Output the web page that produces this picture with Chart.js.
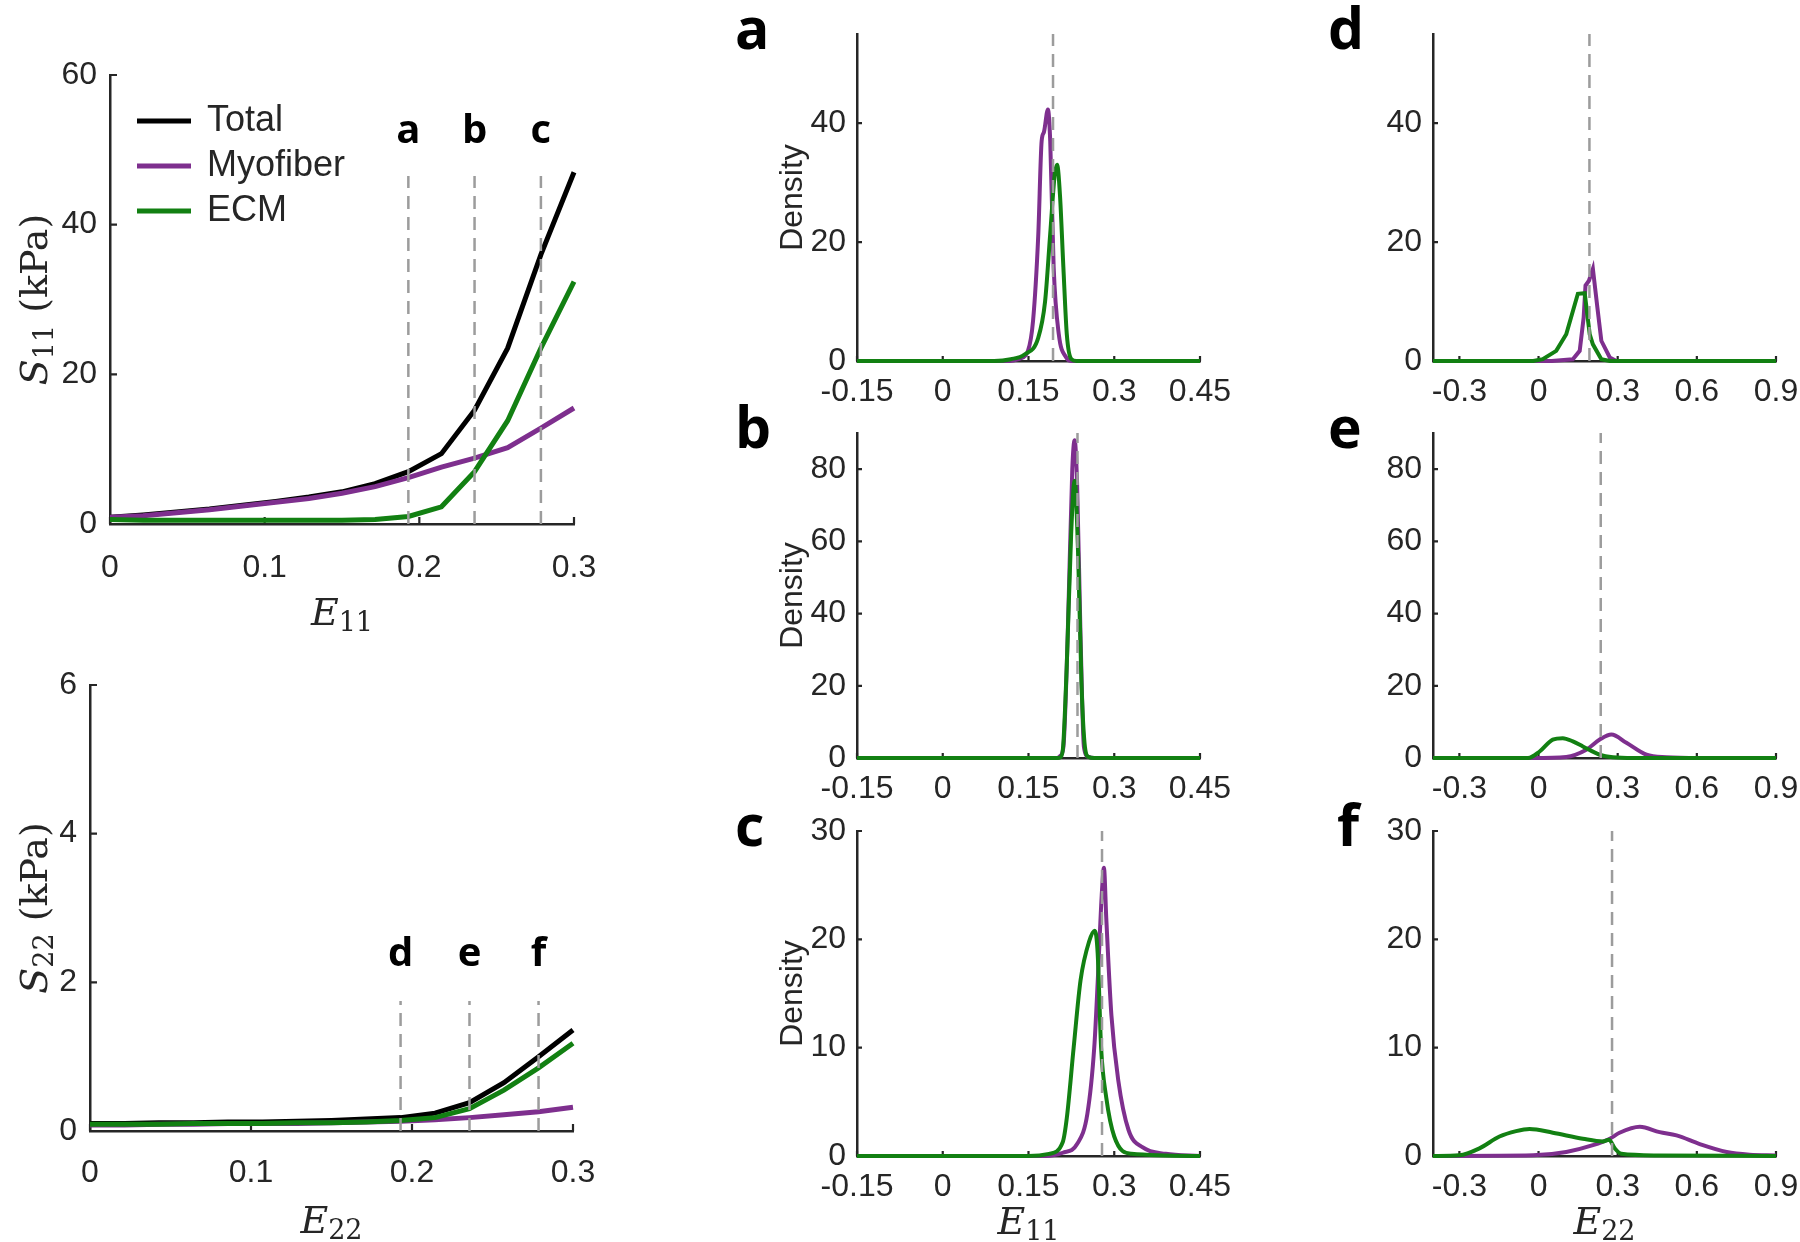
<!DOCTYPE html>
<html>
<head>
<meta charset="utf-8">
<script src="https://cdn.jsdelivr.net/npm/chart.js@4.4.1/dist/chart.umd.min.js"></script>
<style>
  body { margin: 0; background: #fff; width: 1800px; height: 1242px; position: relative; overflow: hidden; }
  canvas { position: absolute; left: 0; top: 0; }
</style>
</head>
<body>
<canvas id="s11" width="1800" height="1242"></canvas>
<canvas id="s22" width="1800" height="1242"></canvas>
<canvas id="pa" width="1800" height="1242"></canvas>
<canvas id="pb" width="1800" height="1242"></canvas>
<canvas id="pc" width="1800" height="1242"></canvas>
<canvas id="pd" width="1800" height="1242"></canvas>
<canvas id="pe" width="1800" height="1242"></canvas>
<canvas id="pf" width="1800" height="1242"></canvas>
<script>
// ---- stress-strain curves (left column) ----
const strain = [0, 0.0214, 0.0429, 0.0643, 0.0857, 0.1071, 0.1286, 0.15, 0.1714, 0.1929, 0.2143, 0.2357, 0.2571, 0.2786, 0.3];
const s11Total = [0.9, 1.2, 1.6, 2.0, 2.5, 3.0, 3.6, 4.3, 5.4, 7.0, 9.4, 15.2, 23.5, 36.0, 47.0];
const s11Myo   = [0.9, 1.1, 1.5, 1.9, 2.4, 2.9, 3.4, 4.1, 5.0, 6.2, 7.6, 8.8, 10.2, 12.8, 15.5];
const s11Ecm   = [0.6, 0.5, 0.5, 0.5, 0.5, 0.5, 0.5, 0.5, 0.6, 1.0, 2.3, 7.0, 13.8, 23.5, 32.4];
const s22Total = [0.10, 0.10, 0.11, 0.11, 0.12, 0.12, 0.13, 0.14, 0.16, 0.18, 0.24, 0.38, 0.65, 1.00, 1.36];
const s22Myo   = [0.08, 0.08, 0.09, 0.09, 0.10, 0.10, 0.10, 0.11, 0.12, 0.13, 0.15, 0.18, 0.22, 0.26, 0.32];
const s22Ecm   = [0.09, 0.09, 0.09, 0.10, 0.10, 0.10, 0.11, 0.11, 0.12, 0.14, 0.18, 0.30, 0.55, 0.85, 1.18];

// strain levels marked with dashed lines
const markStrain = [0.1929, 0.2357, 0.2786];
const markLetters11 = ['a', 'b', 'c'];
const markLetters22 = ['d', 'e', 'f'];
const markTop11 = 46.5, markLabel11 = 52.4;
const markTop22 = 1.75, markLabel22 = 2.37;

// ticks
const strainTicks = [0, 0.1, 0.2, 0.3];
const strainTickLabels = ['0', '0.1', '0.2', '0.3'];
const s11Ticks = [0, 20, 40, 60];
const s22Ticks = [0, 2, 4, 6];
const e11Ticks = [-0.15, 0, 0.15, 0.3, 0.45];
const e11TickLabels = ['-0.15', '0', '0.15', '0.3', '0.45'];
const e22Ticks = [-0.3, 0, 0.3, 0.6, 0.9];
const e22TickLabels = ['-0.3', '0', '0.3', '0.6', '0.9'];
const densTicksA = [0, 20, 40];
const densTicksB = [0, 20, 40, 60, 80];
const densTicksC = [0, 10, 20, 30];

// ---- density curves, E11 at a/b/c ----
const aMyoX = [-0.15, 0.11, 0.135, 0.149, 0.158, 0.167, 0.173, 0.177, 0.184, 0.188, 0.194, 0.203, 0.216, 0.226, 0.45];
const aMyoY = [0, 0, 0.4, 1.7, 6.8, 21, 37, 38.5, 42.3, 37, 15.8, 4.5, 0.6, 0, 0];
const aEcmX = [-0.15, 0.09, 0.119, 0.143, 0.167, 0.179, 0.188, 0.196, 0.2, 0.205, 0.211, 0.217, 0.225, 0.234, 0.45];
const aEcmY = [0, 0, 0.3, 1.1, 3.9, 10, 21.4, 31.5, 33, 28, 15.8, 4.5, 0.3, 0, 0];
const bMyoX = [-0.15, 0.2, 0.205, 0.211, 0.2186, 0.2266, 0.2307, 0.235, 0.241, 0.247, 0.255, 0.265, 0.45];
const bMyoY = [0, 0, 0.5, 3, 34, 80, 88, 76, 34, 3, 0.3, 0, 0];
const bEcmX = [-0.15, 0.2, 0.2065, 0.2107, 0.2168, 0.2246, 0.2307, 0.2367, 0.2427, 0.2488, 0.255, 0.265, 0.45];
const bEcmY = [0, 0, 0.3, 3.4, 25, 62, 76.8, 57, 20.5, 3, 0.3, 0, 0];
const cMyoX = [-0.15, 0.18, 0.21, 0.235, 0.253, 0.265, 0.271, 0.278, 0.282, 0.286, 0.295, 0.307, 0.325, 0.35, 0.39, 0.45];
const cMyoY = [0, 0, 0.3, 1.1, 3.9, 10, 16, 24, 26.6, 22, 13, 7, 2.4, 0.8, 0.2, 0];
const cEcmX = [-0.15, 0.15, 0.186, 0.21, 0.217, 0.229, 0.241, 0.256, 0.266, 0.271, 0.277, 0.286, 0.30, 0.33, 0.45];
const cEcmY = [0, 0, 0.2, 1.3, 3.5, 10, 16.2, 19.8, 20.8, 18.7, 10, 5.4, 1.8, 0.2, 0];

// ---- density curves, E22 at d/e/f ----
const dMyoX = [-0.4, 0.05, 0.13, 0.156, 0.171, 0.178, 0.191, 0.206, 0.223, 0.238, 0.27, 0.295, 0.9];
const dMyoY = [0, 0, 0.3, 1.7, 7.3, 12.7, 13.5, 15.5, 9, 3.4, 0.6, 0, 0];
const dEcmX = [-0.4, -0.02, 0.016, 0.067, 0.105, 0.149, 0.175, 0.194, 0.206, 0.238, 0.27, 0.9];
const dEcmY = [0, 0, 0.3, 1.7, 4.5, 11.3, 11.4, 4.5, 2.8, 0.3, 0, 0];
const eMyoX = [-0.4, -0.02, 0.105, 0.181, 0.232, 0.276, 0.333, 0.409, 0.485, 0.61, 0.9];
const eMyoY = [0, 0, 0.3, 2.3, 5.1, 6.5, 4.2, 0.9, 0.2, 0, 0];
const eEcmX = [-0.4, -0.04, 0.004, 0.054, 0.092, 0.13, 0.168, 0.232, 0.282, 0.36, 0.9];
const eEcmY = [0, 0, 1.8, 5.1, 5.5, 4.6, 3.2, 0.9, 0.2, 0, 0];
const fMyoX = [-0.4, -0.02, 0.105, 0.206, 0.27, 0.307, 0.384, 0.459, 0.523, 0.611, 0.713, 0.8, 0.9];
const fMyoY = [0, 0.06, 0.37, 1.0, 1.6, 2.15, 2.7, 2.2, 1.9, 1.1, 0.37, 0.12, 0.05];
const fEcmX = [-0.4, -0.3, -0.224, -0.148, -0.085, -0.034, 0.054, 0.168, 0.244, 0.267, 0.289, 0.314, 0.45, 0.9];
const fEcmY = [0, 0.06, 0.7, 1.8, 2.3, 2.5, 2.15, 1.6, 1.35, 1.5, 0.7, 0.2, 0.05, 0];

// styles
const W = 1800, H = 1242;
const YAXIS_W = 90, XAXIS_H = 80;
const INK = '#262626';
const BLACK = '#000000', PURPLE = '#7E2F8E', GREEN = '#128012', DASH = '#9c9c9c';
const SANS = '"Liberation Sans", Arial, sans-serif';
const SERIF = '"DejaVu Serif", "Liberation Serif", serif';
const BOLD = '"Open Sans", "DejaVu Sans", sans-serif';

Chart.defaults.font.family = SANS;
Chart.defaults.color = INK;

const pts = (xs, ys) => xs.map((x, i) => ({ x, y: ys[i] }));

function scale(pos, min, max, ticks, labels, pad) {
  return {
    type: 'linear', position: pos, min, max,
    grid: { display: false, drawTicks: false },
    border: { display: true, color: INK, width: 2.5 },
    ticks: {
      autoSkip: false, maxRotation: 0, color: INK, padding: pad,
      font: { size: 32, family: SANS },
      callback: (v, i) => labels[i]
    },
    afterBuildTicks: s => { s.ticks = ticks.map(v => ({ value: v })); },
    afterFit: s => {
      if (pos === 'bottom') s.height = XAXIS_H; else s.width = YAXIS_W;
      s.paddingLeft = s.paddingRight = s.paddingTop = s.paddingBottom = 0;
    }
  };
}

function curve(label, xs, ys, color, width, order, smooth) {
  return {
    label, data: pts(xs, ys), borderColor: color, borderWidth: width,
    pointRadius: 0, clip: false, order, fill: false,
    tension: 0, cubicInterpolationMode: smooth ? 'monotone' : 'default'
  };
}

function dashLines(xs, top) {
  return xs.map(x => ({
    data: [{ x, y: 0 }, { x, y: top }], borderColor: DASH, borderWidth: 2.5,
    borderDash: [13, 8], pointRadius: 0, clip: false, order: 0, tension: 0
  }));
}

// text with an italic letter and an upright subscript, optionally rotated
function drawMath(ctx, parts, x, y, size, rotated) {
  ctx.save();
  ctx.translate(x, y);
  if (rotated) ctx.rotate(-Math.PI / 2);
  ctx.fillStyle = INK;
  ctx.textBaseline = 'alphabetic';
  ctx.textAlign = 'left';
  const fontOf = p => (p.it ? 'italic ' : '') + Math.round(p.sub ? size * 0.72 : size) + 'px ' + SERIF;
  let total = 0;
  const widths = parts.map(p => { ctx.font = fontOf(p); const w = ctx.measureText(p.t).width; total += w; return w; });
  let cx = -total / 2;
  parts.forEach((p, i) => {
    ctx.font = fontOf(p);
    ctx.fillText(p.t, cx, p.sub ? size * 0.16 : 0);
    cx += widths[i];
  });
  ctx.restore();
}

function decor(conf) {
  return {
    id: 'decor',
    beforeDatasetsDraw(chart) {
      const { ctx, chartArea: a } = chart;
      const xs = chart.scales.x, ys = chart.scales.y;
      const len = conf.tickLen || 5;
      ctx.save();
      ctx.strokeStyle = INK;
      ctx.lineWidth = 2.2;
      ctx.beginPath();
      xs.ticks.forEach(t => { const p = xs.getPixelForValue(t.value); ctx.moveTo(p, a.bottom); ctx.lineTo(p, a.bottom - len); });
      ys.ticks.forEach(t => { const p = ys.getPixelForValue(t.value); ctx.moveTo(a.left, p); ctx.lineTo(a.left + len, p); });
      ctx.stroke();
      ctx.restore();
    },
    afterDraw(chart) {
      const { ctx, chartArea: a } = chart;
      const xs = chart.scales.x, ys = chart.scales.y;
      const cx = (a.left + a.right) / 2, cy = (a.top + a.bottom) / 2;
      if (conf.xTitle) drawMath(ctx, conf.xTitle, cx, a.bottom + conf.xTitleDy, 38, false);
      if (conf.yTitle) drawMath(ctx, conf.yTitle, 47, cy, 38, true);
      ctx.save();
      ctx.fillStyle = INK;
      if (conf.density) {
        ctx.translate(a.left - 55, cy);
        ctx.rotate(-Math.PI / 2);
        ctx.font = '32px ' + SANS;
        ctx.textAlign = 'center';
        ctx.textBaseline = 'alphabetic';
        ctx.fillText('Density', 0, 0);
      }
      ctx.restore();
      ctx.save();
      ctx.fillStyle = '#000';
      if (conf.panel) {
        ctx.font = 'bold 57px ' + BOLD;
        ctx.textAlign = 'left';
        ctx.textBaseline = 'alphabetic';
        ctx.fillText(conf.panel, a.left - conf.panelDx, a.top + 15);
      }
      if (conf.marks) {
        ctx.font = 'bold 40px ' + BOLD;
        ctx.textAlign = 'center';
        ctx.textBaseline = 'middle';
        conf.marks.xs.forEach((v, i) => ctx.fillText(conf.marks.letters[i], xs.getPixelForValue(v), ys.getPixelForValue(conf.marks.y)));
      }
      if (conf.legend) {
        ctx.font = '36px ' + SANS;
        ctx.textAlign = 'left';
        ctx.textBaseline = 'middle';
        chart.data.datasets.filter(d => d.label).forEach((d, i) => {
          const y = a.top + 46 + i * 45;
          ctx.strokeStyle = d.borderColor;
          ctx.lineWidth = 5;
          ctx.beginPath();
          ctx.moveTo(a.left + 27, y);
          ctx.lineTo(a.left + 81, y);
          ctx.stroke();
          ctx.fillStyle = INK;
          ctx.fillText(d.label, a.left + 97, y);
        });
      }
      ctx.restore();
    }
  };
}

function makeChart(id, box, xScale, yScale, datasets, conf) {
  return new Chart(document.getElementById(id), {
    type: 'line',
    data: { datasets },
    options: {
      responsive: false, animation: false, events: [],
      layout: { padding: { left: box[0] - YAXIS_W, top: box[1], right: W - box[2], bottom: H - box[3] - XAXIS_H } },
      plugins: { legend: { display: false }, tooltip: { enabled: false } },
      scales: { x: xScale, y: yScale }
    },
    plugins: [decor(conf)]
  });
}

// left column: stress vs strain
makeChart('s11', [110, 75, 574, 524],
  scale('bottom', 0, 0.3, strainTicks, strainTickLabels, 25),
  scale('left', 0, 60, s11Ticks, s11Ticks.map(String), 13),
  [
    curve('Total', strain, s11Total, BLACK, 5, 3, false),
    curve('Myofiber', strain, s11Myo, PURPLE, 5, 2, false),
    curve('ECM', strain, s11Ecm, GREEN, 5, 1, false),
    ...dashLines(markStrain, markTop11)
  ],
  {
    legend: true, xTitleDy: 101, tickLen: 7,
    marks: { xs: markStrain, letters: markLetters11, y: markLabel11 },
    xTitle: [{ t: 'E', it: true }, { t: '11', sub: true }],
    yTitle: [{ t: 'S', it: true }, { t: '11', sub: true }, { t: ' (kPa)' }]
  });

makeChart('s22', [90, 685, 573, 1131],
  scale('bottom', 0, 0.3, strainTicks, strainTickLabels, 23),
  scale('left', 0, 6, s22Ticks, s22Ticks.map(String), 13),
  [
    curve('Total', strain, s22Total, BLACK, 5, 3, false),
    curve('Myofiber', strain, s22Myo, PURPLE, 5, 2, false),
    curve('ECM', strain, s22Ecm, GREEN, 5, 1, false),
    ...dashLines(markStrain, markTop22)
  ],
  {
    xTitleDy: 102, tickLen: 7,
    marks: { xs: markStrain, letters: markLetters22, y: markLabel22 },
    xTitle: [{ t: 'E', it: true }, { t: '22', sub: true }],
    yTitle: [{ t: 'S', it: true }, { t: '22', sub: true }, { t: ' (kPa)' }]
  });

// middle column: E11 densities
const e11Panels = [
  ['pa', 'a', [857, 34, 1200, 361], 55, densTicksA, aMyoX, aMyoY, aEcmX, aEcmY, 0],
  ['pb', 'b', [857, 433, 1200, 758], 90, densTicksB, bMyoX, bMyoY, bEcmX, bEcmY, 1],
  ['pc', 'c', [857, 831, 1200, 1156], 30, densTicksC, cMyoX, cMyoY, cEcmX, cEcmY, 2]
];
e11Panels.forEach(([id, letter, box, ymax, yt, mx, my, ex, ey, k]) => {
  makeChart(id, box,
    scale('bottom', -0.15, 0.45, e11Ticks, e11TickLabels, 12),
    scale('left', 0, ymax, yt, yt.map(String), 11),
    [
      curve(null, mx, my, PURPLE, 4, 2, true),
      curve(null, ex, ey, GREEN, 4, 1, true),
      ...dashLines([markStrain[k]], ymax)
    ],
    {
      density: true, panel: letter, panelDx: 122, xTitleDy: 78,
      xTitle: k === 2 ? [{ t: 'E', it: true }, { t: '11', sub: true }] : null
    });
});

// right column: E22 densities
const e22Panels = [
  ['pd', 'd', [1433, 34, 1776, 361], 55, densTicksA, dMyoX, dMyoY, dEcmX, dEcmY, 0, false],
  ['pe', 'e', [1433, 433, 1776, 758], 90, densTicksB, eMyoX, eMyoY, eEcmX, eEcmY, 1, true],
  ['pf', 'f', [1433, 831, 1776, 1156], 30, densTicksC, fMyoX, fMyoY, fEcmX, fEcmY, 2, true]
];
e22Panels.forEach(([id, letter, box, ymax, yt, mx, my, ex, ey, k, smooth]) => {
  makeChart(id, box,
    scale('bottom', -0.4, 0.9, e22Ticks, e22TickLabels, 12),
    scale('left', 0, ymax, yt, yt.map(String), 11),
    [
      curve(null, mx, my, PURPLE, 4, 2, smooth),
      curve(null, ex, ey, GREEN, 4, 1, smooth),
      ...dashLines([markStrain[k]], ymax)
    ],
    {
      panel: letter, panelDx: letter === 'f' ? 96 : 105, xTitleDy: 78,
      xTitle: k === 2 ? [{ t: 'E', it: true }, { t: '22', sub: true }] : null
    });
});
</script>
</body>
</html>
